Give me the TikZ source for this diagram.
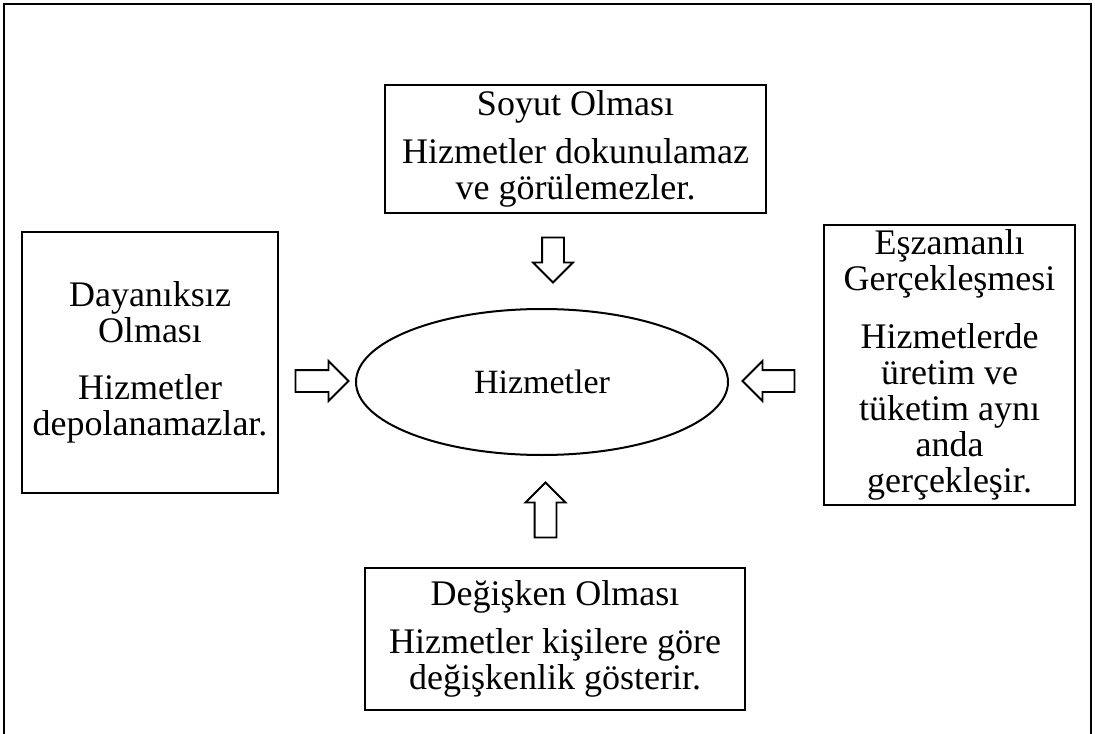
\documentclass[tikz,border=0pt]{standalone}
\usepackage{fontspec}
\setmainfont{Liberation Serif}
\usetikzlibrary{shapes.geometric,shapes.arrows}
\begin{document}
\begin{tikzpicture}[x=0.75pt,y=-0.75pt,
  boxtxt/.style={font=\fontsize{27}{27}\selectfont},
  box/.style={boxtxt, draw, rectangle, line width=2.2pt, align=center, inner sep=0pt},
  hub/.style={font=\fontsize{25.5}{27}\selectfont, draw, ellipse, line width=1.5pt, inner sep=0pt,
    minimum width=279pt, minimum height=109.5pt},
  blockarrow/.style={draw, single arrow, line width=1.4pt, inner xsep=0pt,
    inner ysep=7.5pt, single arrow head extend=6.75pt},
]
\useasboundingbox (0,0) rectangle (1095,734);

% outer frame (open at the bottom)
\draw[line width=1.4pt] (4,734) -- (4,4) -- (1091,4) -- (1091,734);

% central concept
\node[hub] (hub) at (542,382) {Hizmetler};

% the four characteristics
\node[box, minimum width=285.75pt, minimum height=96pt] (soyut) at (575.5,149)
  {Soyut Olması\\[9pt]Hizmetler dokunulamaz\\ve görülemezler.};
\node[box, minimum width=192pt, minimum height=195.75pt] (dayaniksiz) at (150,362.5)
  {Dayanıksız\\Olması\\[16pt]Hizmetler\\depolanamazlar.};
\node[box, minimum width=188.25pt, minimum height=210pt] (eszamanli) at (949.5,365)
  {Eşzamanlı\\Gerçekleşmesi\\[16pt]Hizmetlerde\\üretim ve\\tüketim aynı\\anda\\gerçekleşir.};
\node[box, minimum width=285pt, minimum height=106.5pt] (degisken) at (555,639)
  {Değişken Olması\\[9pt]Hizmetler kişilere göre\\değişkenlik gösterir.};

% block arrows pointing at the central concept
\node[blockarrow, minimum height=33.75pt, rotate=-90] (a-soyut) at (553,254.5) {};
\node[blockarrow, minimum height=39.75pt] (a-dayaniksiz) at (316.5,381) {};
\node[blockarrow, minimum height=39pt, rotate=180] (a-eszamanli) at (774,381) {};
\node[blockarrow, minimum height=41.25pt, rotate=90] (a-degisken) at (545.5,515.5) {};
\end{tikzpicture}
\end{document}
